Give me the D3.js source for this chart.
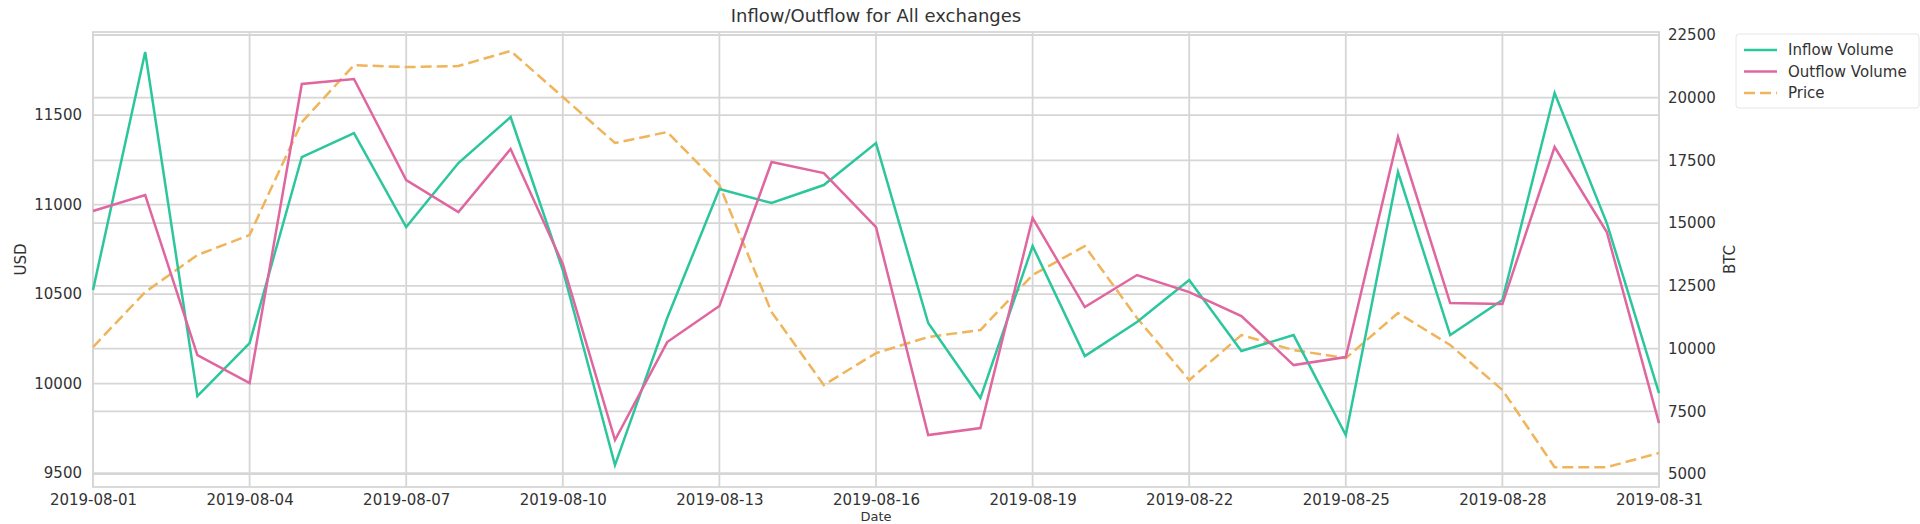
<!DOCTYPE html>
<html>
<head>
<meta charset="utf-8">
<script src="https://cdn.jsdelivr.net/npm/d3@7"></script>
<style>
  html, body { margin: 0; padding: 0; background: #fff; }
  svg { display: block; font-family: "DejaVu Sans", sans-serif; }
</style>
</head>
<body>
<svg id="chart" width="1920" height="524"></svg>
<script>
const dates = ["2019-08-01","2019-08-02","2019-08-03","2019-08-04","2019-08-05","2019-08-06","2019-08-07","2019-08-08","2019-08-09","2019-08-10",
  "2019-08-11","2019-08-12","2019-08-13","2019-08-14","2019-08-15","2019-08-16","2019-08-17","2019-08-18","2019-08-19","2019-08-20",
  "2019-08-21","2019-08-22","2019-08-23","2019-08-24","2019-08-25","2019-08-26","2019-08-27","2019-08-28","2019-08-29","2019-08-30","2019-08-31"];
const inflowVolume = [12333,21822,8107,10220,17636,18593,14845,17397,19231,13131,
  5356,11217,16360,15802,16519,18194,11017,8027,14087,9702,
  11057,12732,9901,10539,6552,17038,10539,11934,20188,15004,8227];
const outflowVolume = [15483,16121,9742,8625,20546,20746,16719,15443,17955,13370,
  6353,10260,11695,17437,16998,14845,6552,6831,15204,11655,
  12931,12253,11297,9343,9662,18433,11815,11775,18035,14646,7030];
const price = [10204,10511,10718,10830,11460,11779,11768,11774,11858,11601,
  11344,11405,11109,10399,9992,10170,10260,10299,10606,10768,
  10366,10019,10271,10187,10142,10394,10215,9964,9533,9533,9612];
const xTickLabels = ["2019-08-01","2019-08-04","2019-08-07","2019-08-10","2019-08-13","2019-08-16","2019-08-19","2019-08-22","2019-08-25","2019-08-28","2019-08-31"];
const usdTicks = [9500,10000,10500,11000,11500];
const btcTicks = [5000,7500,10000,12500,15000,17500,20000,22500];
const seriesNames = ["Inflow Volume","Outflow Volume","Price"];

const W = 1920, H = 524;
const m = {left: 93, right: 261, top: 32, bottom: 37};
const iw = W - m.left - m.right, ih = H - m.top - m.bottom;
const textColor = "#333333";
const gridColor = "#d6d6d6";
const colors = {inflow: "#2cc69c", outflow: "#e066a0", price: "#f0b45a"};

const parse = d3.timeParse("%Y-%m-%d");
const svg = d3.select("#chart");
const g = svg.append("g").attr("transform", `translate(${m.left},${m.top})`);

const x = d3.scaleTime().domain([parse(dates[0]), parse(dates[dates.length-1])]).range([0, iw]);
const yL = d3.scaleLinear().domain([9422, 11964]).range([ih, 0]);
const yR = d3.scaleLinear().domain([4482, 22620]).range([ih, 0]);

// grids
const gridStyle = sel => sel.attr("stroke", gridColor).attr("stroke-width", 1.8);
g.append("g").selectAll("line").data(usdTicks).join("line")
  .attr("x1", 0).attr("x2", iw).attr("y1", d => yL(d)).attr("y2", d => yL(d)).call(gridStyle);
g.append("g").selectAll("line").data(btcTicks).join("line")
  .attr("x1", 0).attr("x2", iw).attr("y1", d => yR(d)).attr("y2", d => yR(d)).call(gridStyle);
g.append("g").selectAll("line").data(xTickLabels).join("line")
  .attr("x1", d => x(parse(d))).attr("x2", d => x(parse(d))).attr("y1", 0).attr("y2", ih).call(gridStyle);

// frame
g.append("rect").attr("x", 0).attr("y", 0).attr("width", iw).attr("height", ih)
  .attr("fill", "none").attr("stroke", gridColor).attr("stroke-width", 1.8);

// axes via d3 axis generators
const xAxis = d3.axisBottom(x).tickValues(xTickLabels.map(parse)).tickFormat(d3.timeFormat("%Y-%m-%d")).tickSize(0).tickPadding(7);
const leftAxis = d3.axisLeft(yL).tickValues(usdTicks).tickFormat(d3.format("d")).tickSize(0).tickPadding(11);
const rightAxis = d3.axisRight(yR).tickValues(btcTicks).tickFormat(d3.format("d")).tickSize(0).tickPadding(9);

const styleAxis = sel => {
  sel.select(".domain").remove();
  sel.selectAll("text").attr("fill", textColor).style("font-size", "15px").style("font-family", "DejaVu Sans");
};
g.append("g").attr("transform", `translate(0,${ih})`).call(xAxis).call(styleAxis);
g.append("g").call(leftAxis).call(styleAxis);
g.append("g").attr("transform", `translate(${iw},0)`).call(rightAxis).call(styleAxis);

// lines
const pts = arr => arr.map((v, i) => [parse(dates[i]), v]);
const lineL = d3.line().x(d => x(d[0])).y(d => yL(d[1]));
const lineR = d3.line().x(d => x(d[0])).y(d => yR(d[1]));

g.append("path").datum(pts(price)).attr("d", lineL).attr("fill", "none")
  .attr("stroke", colors.price).attr("stroke-width", 2.5).attr("stroke-dasharray", "11,5");
g.append("path").datum(pts(inflowVolume)).attr("d", lineR).attr("fill", "none")
  .attr("stroke", colors.inflow).attr("stroke-width", 2.5).attr("stroke-linejoin", "miter");
g.append("path").datum(pts(outflowVolume)).attr("d", lineR).attr("fill", "none")
  .attr("stroke", colors.outflow).attr("stroke-width", 2.5).attr("stroke-linejoin", "miter");

// title & labels
svg.append("text").attr("x", m.left + iw/2).attr("y", 22).attr("text-anchor", "middle")
  .attr("fill", textColor).style("font-size", "18px").text("Inflow/Outflow for All exchanges");
svg.append("text").attr("x", m.left + iw/2).attr("y", 520.5).attr("text-anchor", "middle")
  .attr("fill", textColor).style("font-size", "13px").text("Date");
svg.append("text").attr("transform", `translate(26,${m.top + ih/2}) rotate(-90)`).attr("text-anchor", "middle")
  .attr("fill", textColor).style("font-size", "15px").text("USD");
svg.append("text").attr("transform", `translate(1735,${m.top + ih/2}) rotate(-90)`).attr("text-anchor", "middle")
  .attr("fill", textColor).style("font-size", "15px").text("BTC");

// legend
const lg = svg.append("g").attr("transform", "translate(1736,34)");
lg.append("rect").attr("x", 0).attr("y", 0).attr("width", 183).attr("height", 74).attr("rx", 3)
  .attr("fill", "#fff").attr("fill-opacity", 0.8).attr("stroke", "#e6e6e6").attr("stroke-width", 1);
const legendItems = [
  {name: seriesNames[0], color: colors.inflow, dash: null},
  {name: seriesNames[1], color: colors.outflow, dash: null},
  {name: seriesNames[2], color: colors.price, dash: "11,5"}
];
legendItems.forEach((it, i) => {
  const yy = 16 + i * 21.5;
  lg.append("line").attr("x1", 8).attr("x2", 41).attr("y1", yy).attr("y2", yy)
    .attr("stroke", it.color).attr("stroke-width", 2.5).attr("stroke-dasharray", it.dash);
  lg.append("text").attr("x", 52).attr("y", yy + 5).attr("fill", textColor)
    .style("font-size", "15px").text(it.name);
});
</script>
</body>
</html>
